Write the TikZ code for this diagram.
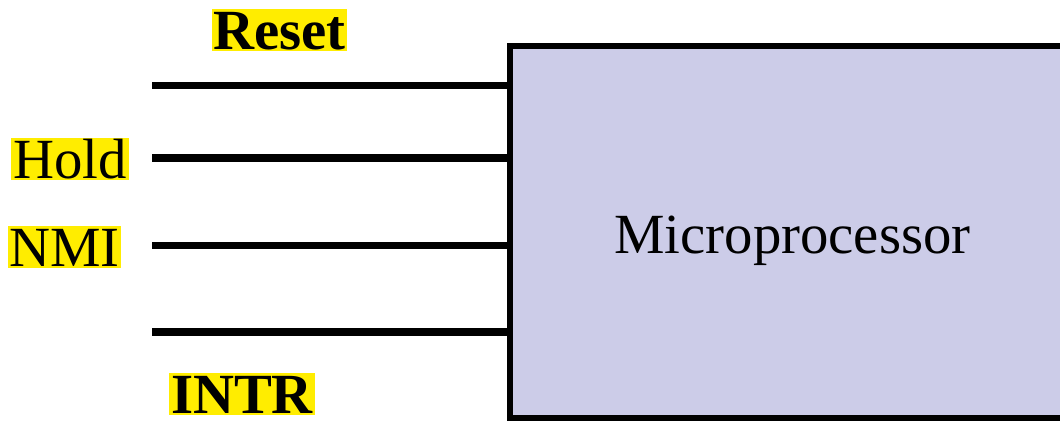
\documentclass[tikz,border=0pt]{standalone}
\usepackage{fontspec}
\setmainfont{Liberation Serif}
\definecolor{procfill}{RGB}{204,204,232}
\definecolor{hilite}{RGB}{255,237,0}
\begin{document}
\begin{tikzpicture}[x=0.02cm, y=0.02cm,
  every node/.style={font=\fontsize{32.3}{38}\selectfont},
  pinlabel/.style={fill=hilite, inner sep=1pt, text height=21.7pt, text depth=0pt},
  wire/.style={line width=4.2pt},
  ]
\useasboundingbox (0,0) rectangle (1060,-426);
\clip (0,0) rectangle (1060,-426);
\node [draw, line width=3.8pt, fill=procfill, minimum width=11.28cm, minimum height=7.44cm] (mp) at (792,-232) {};
\node [anchor=base] (mptext) at (792.5,-253.3) {Microprocessor};
\coordinate (reset) at (152,-85.5);
\coordinate (hold) at (152,-158);
\coordinate (nmi) at (152,-245.3);
\coordinate (intr) at (152,-332);
\draw [wire] (reset) -- (reset -| mp.west);
\draw [wire] (hold) -- (hold -| mp.west);
\draw [wire] (nmi) -- (nmi -| mp.west);
\draw [wire] (intr) -- (intr -| mp.west);
\node [pinlabel] (resetlbl) at (279.5,-30) {\bfseries Reset};
\node [pinlabel] (holdlbl) at (70,-159) {Hold};
\node [pinlabel] (nmilbl) at (64.5,-247) {NMI};
\node [pinlabel] (intrlbl) at (242,-394) {\bfseries INTR};
\end{tikzpicture}
\end{document}
